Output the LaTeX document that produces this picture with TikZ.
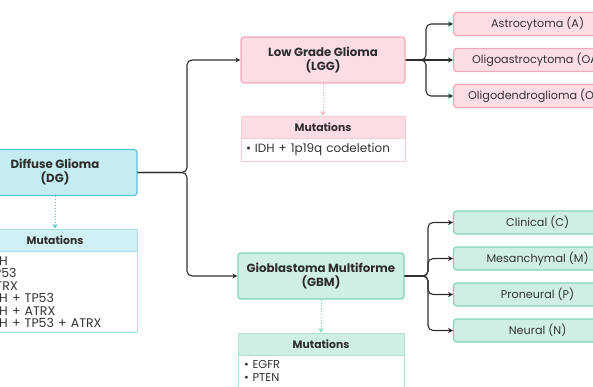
\documentclass[tikz,border=0pt]{standalone}
\usepackage{fontspec}
\setmainfont{Poppins}
\usetikzlibrary{positioning, arrows.meta}

\definecolor{dgfill}{HTML}{C4ECF1}
\definecolor{dgline}{HTML}{52C5D6}
\definecolor{dglight}{HTML}{A6E0E9}
\definecolor{lggfill}{HTML}{FCDDE3}
\definecolor{lggline}{HTML}{F4A9B7}
\definecolor{lgglight}{HTML}{F8CAD2}
\definecolor{gbmfill}{HTML}{CFEFE2}
\definecolor{gbmline}{HTML}{82D4B5}
\definecolor{gbmlight}{HTML}{ABE3CC}
\definecolor{wire}{HTML}{2E2E2E}
\definecolor{ink}{HTML}{333333}

\tikzset{
    titlebox/.style={draw, rounded corners=3pt, line width=1.2pt, minimum width=164pt, text=wire,
        minimum height=46pt, align=center, font=\fontsize{11.8}{14}\selectfont\bfseries},
    subbox/.style={draw, rounded corners=3pt, line width=1.2pt, minimum width=168pt, text=ink,
        minimum height=23pt, anchor=west, font=\fontsize{11.2}{13}\selectfont},
    mutshead/.style={draw, line width=0.8pt, minimum width=164pt, minimum height=22pt, text=wire,
        font=\fontsize{10.8}{12}\selectfont\bfseries},
    mutsbody/.style={draw, line width=0.8pt, fill=white, text width=154pt, minimum width=164pt,
        text=ink, align=left, inner sep=5pt},
    wirearrow/.style={draw=wire, line width=1.1pt, rounded corners=5pt, -{Stealth[length=5pt,width=5pt]}},
    dotarrow/.style={line width=0.9pt, dotted, -{Triangle[open,length=4pt,width=5pt]}}
}

\begin{document}
\begin{tikzpicture}[x=1pt, y=-1pt]
    \clip (0,0) rectangle (593,387);

    % Diffuse glioma and its mutations
    \node[titlebox, fill=dgfill, draw=dgline] (dg) at (55,172.5) {Diffuse Glioma\\(DG)};
    \node[mutshead, fill=dgfill!80, draw=dglight] (dgmut) at (55,240) {Mutations};
    \node[mutsbody, draw=dglight, below=0pt of dgmut, font=\fontsize{12.5}{12.4}\selectfont] (dglist)
        {\textbullet~IDH\\\textbullet~TP53\\\textbullet~ATRX\\\textbullet~IDH + TP53\\\textbullet~IDH + ATRX\\\textbullet~IDH + TP53 + ATRX};

    % Low grade glioma
    \node[titlebox, fill=lggfill, draw=lggline] (lgg) at (323,60) {Low Grade Glioma\\(LGG)};
    \node[mutshead, fill=lggfill, draw=lgglight] (lggmut) at (323,127) {Mutations};
    \node[mutsbody, draw=lgglight, below=0pt of lggmut, minimum height=20pt,
        font=\fontsize{12}{13}\selectfont] (lgglist)
        {\textbullet~IDH + 1p19q codeletion};

    % Glioblastoma multiforme
    \node[titlebox, fill=gbmfill, draw=gbmline, minimum width=166pt] (gbm) at (321,276) {Gioblastoma Multiforme\\(GBM)};
    \node[mutshead, fill=gbmfill, draw=gbmlight, minimum width=166pt] (gbmmut) at (321,344) {Mutations};
    \node[mutsbody, draw=gbmlight, below=0pt of gbmmut, minimum width=166pt,
        font=\fontsize{11.5}{13}\selectfont] (gbmlist)
        {\textbullet~EGFR\\\textbullet~PTEN};

    % LGG subtypes
    \node[subbox, fill=lggfill, draw=lggline] (astro) at (453,24) {Astrocytoma (A)};
    \node[subbox, fill=lggfill, draw=lggline] (oligoa) at (453,60) {Oligoastrocytoma (OA)};
    \node[subbox, fill=lggfill, draw=lggline] (oligod) at (453,96) {Oligodendroglioma (OD)};

    % GBM subtypes
    \node[subbox, fill=gbmfill, draw=gbmline] (clin) at (453,222.5) {Clinical (C)};
    \node[subbox, fill=gbmfill, draw=gbmline] (mesa) at (453,258.5) {Mesanchymal (M)};
    \node[subbox, fill=gbmfill, draw=gbmline] (pron) at (453,294.5) {Proneural (P)};
    \node[subbox, fill=gbmfill, draw=gbmline] (neur) at (453,330.5) {Neural (N)};

    % Fork points
    \coordinate (dgfork) at (187,172.5);
    \coordinate (lggfork) at (426,60);
    \coordinate (gbmfork) at (428,276);

    % Arrows
    \draw[wirearrow] (dg.east) -- (dgfork) |- (lgg.west);
    \draw[wirearrow] (dg.east) -- (dgfork) |- (gbm.west);
    \draw[wirearrow] (lgg.east) -- (lggfork) |- (astro.west);
    \draw[wirearrow] (lgg.east) -- (oligoa.west);
    \draw[wirearrow] (lgg.east) -- (lggfork) |- (oligod.west);
    \draw[wirearrow] (gbm.east) -- (gbmfork) |- (clin.west);
    \draw[wirearrow] (gbm.east) -- (gbmfork) |- (mesa.west);
    \draw[wirearrow] (gbm.east) -- (gbmfork) |- (pron.west);
    \draw[wirearrow] (gbm.east) -- (gbmfork) |- (neur.west);

    \draw[dotarrow, draw=dgline] (dg.south) -- (dgmut.north);
    \draw[dotarrow, draw=lggline] (lgg.south) -- (lggmut.north);
    \draw[dotarrow, draw=gbmline] (gbm.south) -- (gbmmut.north);
\end{tikzpicture}
\end{document}
